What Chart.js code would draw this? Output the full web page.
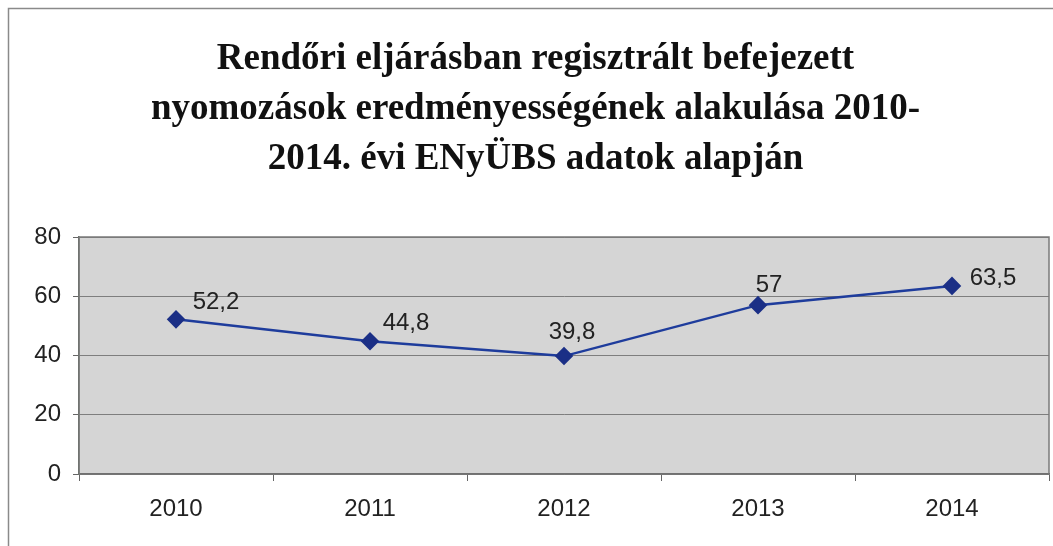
<!DOCTYPE html>
<html>
<head>
<meta charset="utf-8">
<script src="https://cdn.jsdelivr.net/npm/chart.js@4/dist/chart.umd.min.js"></script>
<style>
  html, body { margin: 0; padding: 0; background: #fff; }
  #wrap { width: 1053px; height: 546px; position: relative; }
</style>
</head>
<body>
<div id="wrap"><canvas id="grafico"></canvas></div>
<script>
// Adatok
const evek = ['2010', '2011', '2012', '2013', '2014'];
const eredmenyesseg = [52.2, 44.8, 39.8, 57, 63.5];
const cimkek = ['52,2', '44,8', '39,8', '57', '63,5'];
const yTickek = [0, 20, 40, 60, 80];
const cim = [
    'Rendőri eljárásban regisztrált befejezett',
    'nyomozások eredményességének alakulása 2010-',
    '2014. évi ENyÜBS adatok alapján'
];

// Keret, szürke háttér a rajzterületen
const hatterPlugin = {
    id: 'hatter',
    beforeDraw(chart) {
        const ctx = chart.ctx;
        const a = chart.chartArea;
        ctx.save();
        ctx.strokeStyle = '#8a8a8a';
        ctx.lineWidth = 1.5;
        ctx.beginPath();
        ctx.moveTo(8.5, chart.height);
        ctx.lineTo(8.5, 8.5);
        ctx.lineTo(chart.width, 8.5);
        ctx.stroke();
        ctx.fillStyle = '#d5d5d5';
        ctx.fillRect(a.left, a.top, a.right - a.left, a.bottom - a.top);
        ctx.restore();
    },
    afterDatasetsDraw(chart) {
        const ctx = chart.ctx;
        const a = chart.chartArea;
        ctx.save();
        ctx.strokeStyle = '#7a7a7a';
        ctx.lineWidth = 1.5;
        ctx.strokeRect(a.left, a.top, a.right - a.left, a.bottom - a.top);
        ctx.restore();
    }
};

// Adatcímkék
const cimkePlugin = {
    id: 'adatcimkek',
    afterDatasetsDraw(chart, args, opts) {
        const ctx = chart.ctx;
        const meta = chart.getDatasetMeta(0);
        ctx.save();
        ctx.font = '24px "Liberation Sans", Arial, sans-serif';
        ctx.fillStyle = '#222';
        ctx.textAlign = 'center';
        ctx.textBaseline = 'middle';
        meta.data.forEach((pont, i) => {
            const [dx, dy] = opts.eltolas[i];
            ctx.fillText(cimkek[i], pont.x + dx, pont.y + dy);
        });
        ctx.restore();
    }
};

const ctx = document.getElementById('grafico').getContext('2d');
new Chart(ctx, {
    type: 'line',
    data: {
        labels: evek,
        datasets: [{
            data: eredmenyesseg,
            borderColor: '#1e3c9c',
            borderWidth: 2.5,
            pointStyle: 'rectRot',
            pointRadius: 7.5,
            pointHoverRadius: 7.5,
            pointBackgroundColor: '#1b2f86',
            pointBorderColor: '#1b2f86',
            tension: 0
        }]
    },
    options: {
        responsive: true,
        maintainAspectRatio: false,
        animation: false,
        layout: { autoPadding: false, padding: { left: 22, right: 4, top: 0, bottom: 0 } },
        plugins: {
            legend: { display: false },
            tooltip: { enabled: false },
            title: {
                display: true,
                text: cim,
                color: '#111',
                font: { family: '"Liberation Serif", "Times New Roman", serif', size: 37, weight: 'bold', lineHeight: 50 / 37 },
                padding: { top: 34, bottom: 53 }
            },
            adatcimkek: {
                eltolas: [[40, -17], [36, -18], [8, -24], [11, -20], [41, -8]]
            }
        },
        scales: {
            x: {
                offset: true,
                grid: { drawOnChartArea: false, drawTicks: true, tickLength: 7, color: '#666', offset: true },
                border: { display: true, color: '#555', width: 1.5 },
                ticks: { color: '#222', padding: 14, font: { family: '"Liberation Sans", Arial, sans-serif', size: 24 } },
                afterFit(scale) {
                    scale.height = 72;
                    scale.paddingLeft = 0;
                    scale.paddingRight = 0;
                }
            },
            y: {
                min: 0,
                max: 80,
                afterBuildTicks(scale) { scale.ticks = yTickek.map(v => ({ value: v })); },
                grid: { color: '#7e7e7e', tickLength: 6, tickColor: '#666', drawTicks: true },
                border: { display: true, color: '#556055', width: 1.5 },
                ticks: { color: '#222', padding: 12, font: { family: '"Liberation Sans", Arial, sans-serif', size: 24 } },
                afterFit(scale) { scale.width = 57; }
            }
        }
    },
    plugins: [hatterPlugin, cimkePlugin]
});
</script>
</body>
</html>
